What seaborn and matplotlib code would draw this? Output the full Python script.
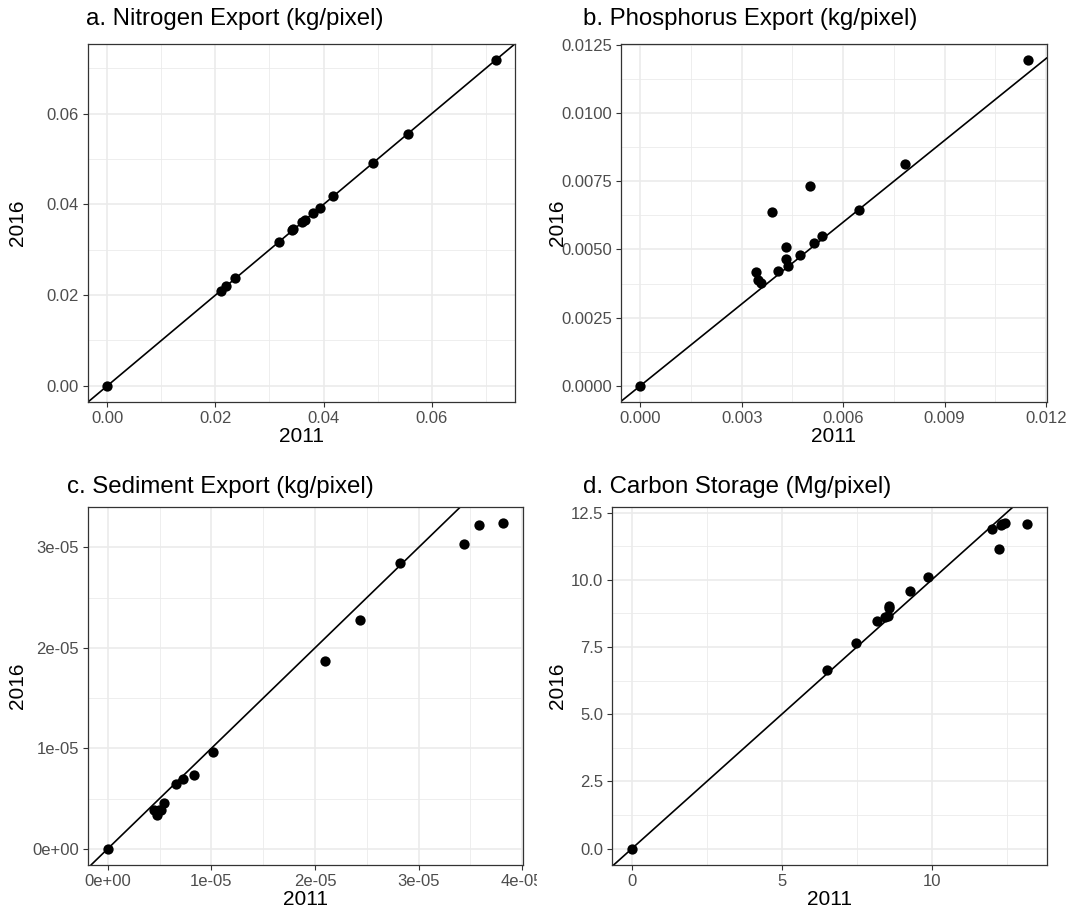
import numpy as np
import seaborn as sns
import matplotlib.pyplot as plt
from matplotlib.transforms import Bbox

# values (2011 vs 2016 per watershed)
nitrogen_2011 = [0.0, 0.02098, 0.02196, 0.02369, 0.03177, 0.03417, 0.03442, 0.03596,
                 0.03658, 0.03812, 0.03935, 0.04182, 0.04910, 0.05563, 0.07185]
nitrogen_2016 = [0.0, 0.02091, 0.02201, 0.02370, 0.03176, 0.03426, 0.03448, 0.03609,
                 0.03653, 0.03814, 0.03932, 0.04181, 0.04907, 0.05560, 0.07181]

phosphorus_2011 = [0.0, 0.003423, 0.003472, 0.003570, 0.003885, 0.004062, 0.004308, 0.004308,
                   0.004357, 0.004711, 0.005016, 0.005144, 0.005361, 0.006462, 0.007839, 0.011459]
phosphorus_2016 = [0.0, 0.004184, 0.003879, 0.003757, 0.006367, 0.004221, 0.005087, 0.004648,
                   0.004379, 0.004806, 0.007330, 0.005233, 0.005501, 0.006465, 0.008123, 0.011940]

sediment_2011 = [0.0, 0.449e-5, 0.471e-5, 0.490e-5, 0.513e-5, 0.545e-5, 0.654e-5, 0.728e-5,
                 0.834e-5, 1.017e-5, 2.095e-5, 2.435e-5, 2.816e-5, 3.442e-5, 3.580e-5, 3.817e-5]
sediment_2016 = [0.0, 0.390e-5, 0.340e-5, 0.383e-5, 0.384e-5, 0.455e-5, 0.649e-5, 0.698e-5,
                 0.738e-5, 0.967e-5, 1.874e-5, 2.281e-5, 2.841e-5, 3.039e-5, 3.225e-5, 3.241e-5]

carbon_2011 = [0.0, 6.507, 7.479, 8.186, 8.429, 8.539, 8.562, 8.580, 9.280, 9.887,
               11.998, 12.240, 12.300, 12.350, 12.440, 13.180]
carbon_2016 = [0.0, 6.658, 7.648, 8.465, 8.614, 8.640, 8.935, 9.035, 9.567, 10.099,
               11.880, 11.140, 12.030, 12.080, 12.100, 12.067]

titles = ["a. Nitrogen Export (kg/pixel)", "b. Phosphorus Export (kg/pixel)",
          "c. Sediment Export (kg/pixel)", "d. Carbon Storage (Mg/pixel)"]

x_ticks = [[0.0, 0.02, 0.04, 0.06], [0.0, 0.003, 0.006, 0.009, 0.012],
           [0.0, 1e-5, 2e-5, 3e-5, 4e-5], [0, 5, 10]]
x_labels = [["0.00", "0.02", "0.04", "0.06"], ["0.000", "0.003", "0.006", "0.009", "0.012"],
            ["0e+00", "1e-05", "2e-05", "3e-05", "4e-05"], ["0", "5", "10"]]
y_ticks = [[0.0, 0.02, 0.04, 0.06], [0.0, 0.0025, 0.005, 0.0075, 0.01, 0.0125],
           [0.0, 1e-5, 2e-5, 3e-5], [0.0, 2.5, 5.0, 7.5, 10.0, 12.5]]
y_labels = [["0.00", "0.02", "0.04", "0.06"],
            ["0.0000", "0.0025", "0.0050", "0.0075", "0.0100", "0.0125"],
            ["0e+00", "1e-05", "2e-05", "3e-05"],
            ["0.0", "2.5", "5.0", "7.5", "10.0", "12.5"]]

sns.set_theme(style="white")
plt.rcParams['font.family'] = ['Liberation Sans', 'DejaVu Sans']

W, H = 1078, 916
fig = plt.figure(figsize=(W / 100, H / 100), dpi=100)

# panel boxes in pixels: left, top, right, bottom
boxes = [(88, 44, 515, 402), (621, 44, 1047, 402),
         (88, 507, 523, 865), (612, 507, 1047, 865)]
title_pos = [(86, 19), (583, 19), (67, 487), (583, 487)]
ylabel_x = [18, 540 + 18, 18, 540 + 18]

data = [(nitrogen_2011, nitrogen_2016), (phosphorus_2011, phosphorus_2016),
        (sediment_2011, sediment_2016), (carbon_2011, carbon_2016)]


def minor_between(ticks):
    t = np.array(ticks, dtype=float)
    step = t[1] - t[0]
    return list(np.concatenate([t - step / 2, [t[-1] + step / 2]]))


for i, (xs, ys) in enumerate(data):
    l, t, r, b = boxes[i]
    ax = fig.add_axes([l / W, 1 - b / H, (r - l) / W, (b - t) / H])
    sns.scatterplot(x=xs, y=ys, ax=ax, color="black", s=55, linewidth=0, zorder=3)
    ax.axline((0, 0), slope=1, color="black", lw=1.2, zorder=2)

    xpad = 0.05 * (max(xs) - min(xs))
    ypad = 0.05 * (max(ys) - min(ys))

    ax.set_xticks(x_ticks[i])
    ax.set_xticklabels(x_labels[i])
    ax.set_yticks(y_ticks[i])
    ax.set_yticklabels(y_labels[i])
    ax.set_xticks(minor_between(x_ticks[i]), minor=True)
    ax.set_yticks(minor_between(y_ticks[i]), minor=True)
    ax.set_xlim(min(xs) - xpad, max(xs) + xpad)
    ax.set_ylim(min(ys) - ypad, max(ys) + ypad)

    ax.grid(which="major", color="#EBEBEB", lw=1.2, zorder=0)
    ax.grid(which="minor", color="#EBEBEB", lw=0.6, zorder=0)
    ax.set_axisbelow(True)
    ax.tick_params(which="major", length=3.5, width=0.8, color="#333333",
                   labelsize=12, labelcolor="#4D4D4D", direction="out", pad=3,
                   bottom=True, left=True)
    ax.tick_params(which="minor", length=0)
    for sp in ax.spines.values():
        sp.set_color("#333333")
        sp.set_linewidth(0.9)

    ax.set_xlabel("2011", fontsize=15, color="black", labelpad=1)
    ax.set_ylabel("")
    yc = 1 - (t + b) / 2 / H
    fig.text(ylabel_x[i] / W, yc, "2016", rotation=90, fontsize=15,
             ha="center", va="center", color="black")
    tx, ty = title_pos[i]
    fig.text(tx / W, 1 - ty / H, titles[i], fontsize=17.3, ha="left", va="center",
             color="black")

    # each panel was a separate image; clip labels to its half of the figure
    half = 0 if l < 540 else 540
    clip = Bbox.from_extents(half, 0, half + 537, H)
    for lab in ax.get_xticklabels():
        lab.set_clip_box(clip)
        lab.set_clip_on(True)

fig.savefig("out.png", dpi=100)
